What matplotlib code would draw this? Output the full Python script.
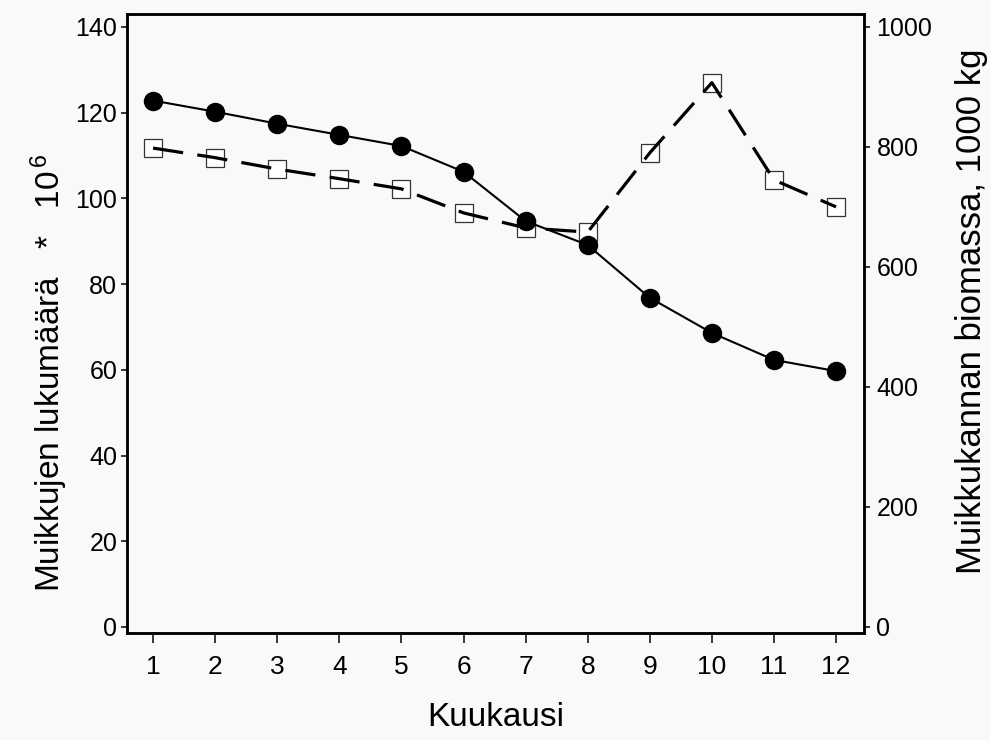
import matplotlib
matplotlib.use("Agg")
import matplotlib.pyplot as plt
from matplotlib import font_manager

months = [1, 2, 3, 4, 5, 6, 7, 8, 9, 10, 11, 12]
# number of vendace, millions (left axis)
count_millions = [122.8, 120.2, 117.4, 114.8, 112.2, 106.2, 94.7, 89.1, 76.8, 68.6, 62.3, 59.7]
# stock biomass, 1000 kg (right axis)
biomass_t = [798, 782, 763, 747, 730, 690, 665, 658, 790, 907, 745, 700]

left_ticks = [0, 20, 40, 60, 80, 100, 120, 140]
right_ticks = [0, 200, 400, 600, 800, 1000]

plt.rcParams['font.family'] = ['Liberation Sans', 'DejaVu Sans']
plt.rcParams['mathtext.fontset'] = 'custom'
plt.rcParams['mathtext.rm'] = 'Liberation Sans'
plt.rcParams['mathtext.it'] = 'Liberation Sans'

names = {f.name for f in font_manager.fontManager.ttflist}
narrow = 'Liberation Sans Narrow' if 'Liberation Sans Narrow' in names else 'Liberation Sans'

bg = '#f7faf7'
fig = plt.figure(figsize=(9.9, 7.4), dpi=100, facecolor=bg)
ax = fig.add_axes([0.1283, 0.1446, 0.7444, 0.8365])
ax2 = ax.twinx()

ax2.set_facecolor(bg)
ax.set_zorder(ax2.get_zorder() + 1)
ax.patch.set_visible(False)

# squares: biomass (right axis)
ax2.plot(months, biomass_t, linestyle='none', marker='s', markersize=13,
         markerfacecolor='white', markeredgecolor='#333333', markeredgewidth=0.9, zorder=2)
ax2.plot(months, biomass_t, color='black', linewidth=2.3, dashes=(9.5, 4.5), zorder=3)

# circles: count (left axis)
ax.plot(months, count_millions, color='black', linewidth=1.5, marker='o', markersize=13,
        markerfacecolor='black', markeredgecolor='black', zorder=4)

ylo, yhi = -1.4, 143.0
ax.set_ylim(ylo, yhi)
ax2.set_ylim(ylo * 1000 / 140, yhi * 1000 / 140)
ax.set_xlim(0.58, 12.45)

ax.set_xticks(months)
ax.set_xticklabels([str(m) for m in months], fontfamily=narrow, fontsize=19)
ax.set_yticks(left_ticks)
ax.set_yticklabels([str(t) for t in left_ticks], fontsize=18)
ax2.set_yticks(right_ticks)
ax2.set_yticklabels([str(t) for t in right_ticks], fontsize=18)

for a in (ax, ax2):
    for s in a.spines.values():
        s.set_linewidth(1.8)
        s.set_color('black')

ax.tick_params(axis='x', direction='out', length=7, width=1.1, pad=9)
ax.tick_params(axis='y', direction='out', length=4, width=1.1, pad=3)
ax2.tick_params(axis='y', direction='out', length=4, width=1.1, pad=5)

ax.set_xlabel('Kuukausi', fontsize=24)
ax.xaxis.set_label_coords(0.50, -0.111)
ax.set_ylabel('Muikkujen lukumäärä   *   10$^{\\,6}$', fontsize=24)
ax.yaxis.set_label_coords(-0.078, 0.42)
ax2.set_ylabel('Muikkukannan biomassa, 1000 kg', fontsize=25, rotation=90)
ax2.yaxis.set_label_coords(1.123, 0.52)

fig.savefig('out.png', dpi=100, facecolor=bg)
